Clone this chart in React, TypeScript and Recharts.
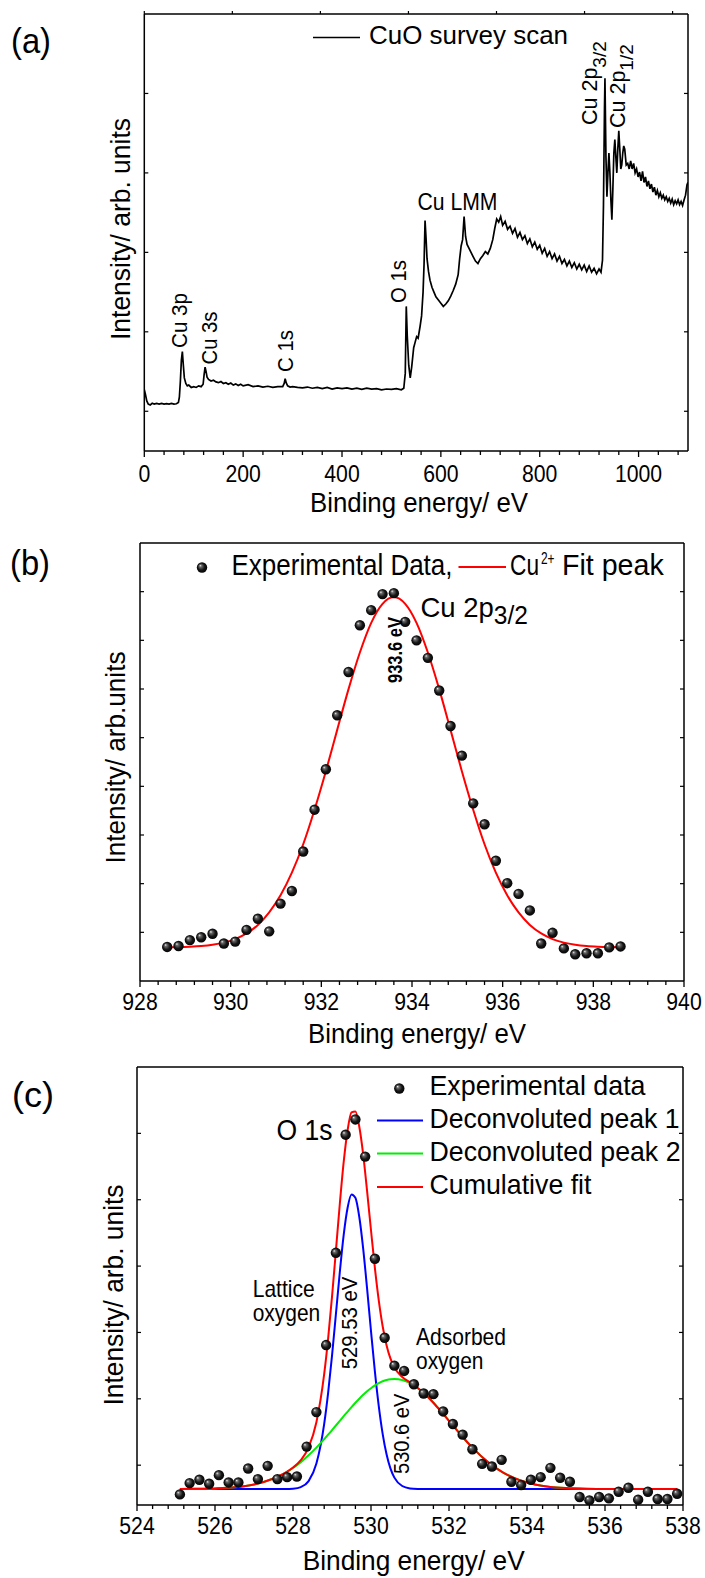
import React from "react";
import { ComposedChart, Line, Scatter, XAxis, YAxis } from "recharts";

const FONT = "'Liberation Sans', Arial, Helvetica, sans-serif";
const W = 705;
const H = 1578;

// ---------- (a) CuO survey scan ----------
const SURVEY_EV = [
  0, 2, 5, 8, 12, 16, 20, 25, 30, 35,
  40, 45, 50, 55, 60, 65, 69, 71, 73, 75,
  77, 79, 81, 84, 87, 90, 95, 100, 105, 110,
  115, 119, 121, 123, 125, 127, 130, 135, 140, 145,
  150, 155, 160, 165, 170, 175, 180, 185, 190, 195,
  200, 210, 220, 230, 240, 250, 260, 270, 280, 283,
  285, 287, 290, 295, 300, 310, 320, 330, 340, 350,
  360, 370, 380, 390, 400, 410, 420, 430, 440, 450,
  460, 470, 480, 490, 500, 510, 520, 525, 528, 530,
  532, 535, 538, 541, 545, 548, 551, 554, 558, 561,
  564, 566, 568, 570, 572, 575, 578, 582, 586, 590,
  595, 600, 605, 610, 615, 620, 625, 630, 635, 638,
  641, 644, 647, 650, 653, 657, 661, 665, 670, 675,
  680, 685, 690, 695, 700, 705, 709, 713, 717, 721,
  725, 730, 735, 740, 745, 750, 755, 760, 765, 770,
  775, 780, 785, 790, 795, 800, 805, 810, 815, 820,
  825, 830, 835, 840, 845, 850, 855, 860, 865, 870,
  875, 880, 885, 890, 895, 900, 905, 910, 915, 920,
  924, 927, 929, 931, 932, 934, 936, 938, 940, 942,
  944, 946, 948, 950, 952, 954, 956, 958, 960, 962,
  964, 966, 968, 970, 972, 975, 978, 981, 984, 987,
  990, 993, 996, 999, 1002, 1005, 1008, 1011, 1014, 1017,
  1020, 1023, 1026, 1029, 1032, 1035, 1038, 1041, 1044, 1047,
  1050, 1053, 1056, 1059, 1062, 1065, 1068, 1071, 1074, 1077,
  1080, 1083, 1086, 1089, 1092, 1095, 1098, 1100,
];
const SURVEY_INT = [
  0.27, 0.22, 0.13, 0.09, 0.08, 0.1, 0.09, 0.1, 0.09, 0.1,
  0.09, 0.095, 0.09, 0.1, 0.09, 0.095, 0.11, 0.18, 0.38, 0.64,
  0.75, 0.58, 0.42, 0.35, 0.32, 0.33, 0.3, 0.31, 0.3, 0.32,
  0.31, 0.34, 0.46, 0.555, 0.5, 0.43, 0.4, 0.38, 0.39, 0.37,
  0.36, 0.375, 0.35, 0.36, 0.34, 0.355, 0.33, 0.345, 0.325, 0.34,
  0.32, 0.335, 0.31, 0.32, 0.305, 0.315, 0.3, 0.31, 0.31, 0.35,
  0.41, 0.36, 0.32, 0.305, 0.31, 0.3, 0.295, 0.305, 0.29, 0.3,
  0.285, 0.3, 0.28, 0.295, 0.285, 0.295, 0.28, 0.29, 0.275, 0.29,
  0.28, 0.285, 0.27, 0.28, 0.275, 0.285, 0.27, 0.29, 0.48, 1.32,
  0.95, 0.58, 0.42, 0.56, 0.8, 0.87, 0.94, 0.92, 1.07, 1.2,
  1.5, 1.85, 2.4, 2.18, 1.92, 1.76, 1.65, 1.56, 1.5, 1.44,
  1.4, 1.36, 1.32, 1.35, 1.39, 1.45, 1.52, 1.6, 1.72, 1.92,
  2.08, 2.16, 2.45, 2.2, 2.1, 2.05, 2.0, 1.95, 1.89, 1.86,
  1.92, 1.96, 2.01, 1.98, 2.05, 2.16, 2.3, 2.42, 2.38, 2.45,
  2.34, 2.39, 2.29, 2.33, 2.24, 2.3, 2.19, 2.25, 2.16, 2.21,
  2.11, 2.17, 2.07, 2.13, 2.04, 2.09, 1.99, 2.05, 1.95, 2.01,
  1.92, 1.98, 1.89, 1.95, 1.86, 1.91, 1.83, 1.89, 1.81, 1.87,
  1.79, 1.85, 1.78, 1.84, 1.76, 1.83, 1.75, 1.8, 1.73, 1.79,
  1.75, 1.9, 2.6, 3.8, 4.19, 3.2, 2.7, 3.0, 3.25, 3.0,
  2.66, 2.41, 2.8, 3.25, 3.42, 3.2, 3.0, 3.3, 3.53, 3.3,
  3.05, 3.1, 3.25, 3.34, 3.3, 3.1, 3.12, 3.05, 3.15, 3.05,
  3.12, 3.0, 3.05, 2.95, 3.01, 2.9, 3.02, 2.88, 2.95, 2.83,
  2.9, 2.8, 2.86, 2.76, 2.82, 2.72, 2.78, 2.7, 2.75, 2.68,
  2.72, 2.66, 2.7, 2.64, 2.68, 2.62, 2.67, 2.6, 2.65, 2.61,
  2.66, 2.6, 2.64, 2.59, 2.66, 2.72, 2.85, 2.88,
];
const A_XTICKS = [0, 40, 80, 120, 160, 200, 240, 280, 320, 360, 400, 440, 480, 520, 560, 600, 640, 680, 720, 760, 800, 840, 880, 920, 960, 1000, 1040, 1080];
const A_XLABELS = [0, 200, 400, 600, 800, 1000];
const A_YTICKS = [0, 1, 2, 3, 4];

// ---------- (b) Cu 2p3/2 ----------
const B_EV = [
  928.6, 928.85, 929.1, 929.35, 929.6, 929.85, 930.1, 930.35, 930.6, 930.85,
  931.1, 931.35, 931.6, 931.85, 932.1, 932.35, 932.6, 932.85, 933.1, 933.35,
  933.6, 933.85, 934.1, 934.35, 934.6, 934.85, 935.1, 935.35, 935.6, 935.85,
  936.1, 936.35, 936.6, 936.85, 937.1, 937.35, 937.6, 937.85, 938.1, 938.35,
  938.6,
];
const B_EXP = [
  -0.3, -0.28, -0.16, -0.1, -0.03, -0.23, -0.19, 0.05, 0.28, 0.02,
  0.59, 0.85, 1.66, 2.52, 3.35, 4.46, 5.35, 6.31, 6.62, 6.95,
  6.97, 6.38, 6.0, 5.64, 4.97, 4.24, 3.63, 2.65, 2.22, 1.47,
  1.01, 0.79, 0.45, -0.23, -0.01, -0.33, -0.45, -0.43, -0.43, -0.31,
  -0.29,
];
const B_FIT = [
  -0.307, -0.303, -0.295, -0.281, -0.255, -0.211, -0.139, -0.023, 0.152, 0.41,
  0.76, 1.225, 1.81, 2.52, 3.31, 4.16, 4.997, 5.75, 6.36, 6.75,
  6.89, 6.75, 6.36, 5.75, 4.997, 4.16, 3.31, 2.52, 1.81, 1.225,
  0.76, 0.41, 0.152, -0.023, -0.139, -0.211, -0.255, -0.281, -0.295, -0.303,
  -0.307,
];
const B_XTICKS = [928, 928.4, 928.8, 929.2, 929.6, 930, 930.4, 930.8, 931.2, 931.6, 932, 932.4, 932.8, 933.2, 933.6, 934, 934.4, 934.8, 935.2, 935.6, 936, 936.4, 936.8, 937.2, 937.6, 938, 938.4, 938.8, 939.2, 939.6, 940];
const B_XLABELS = [928, 930, 932, 934, 936, 938, 940];
const B_YTICKS = [0, 1, 2, 3, 4, 5, 6, 7];

// ---------- (c) O 1s ----------
const C_EV = [
  525.1, 525.35, 525.6, 525.85, 526.1, 526.35, 526.6, 526.85, 527.1, 527.35,
  527.6, 527.85, 528.1, 528.35, 528.6, 528.85, 529.1, 529.35, 529.6, 529.85,
  530.1, 530.35, 530.6, 530.85, 531.1, 531.35, 531.6, 531.85, 532.1, 532.35,
  532.6, 532.85, 533.1, 533.35, 533.6, 533.85, 534.1, 534.35, 534.6, 534.85,
  535.1, 535.35, 535.6, 535.85, 536.1, 536.35, 536.6, 536.85, 537.1, 537.35,
  537.6, 537.85,
];
const C_EXP = [
  -0.44, -0.27, -0.22, -0.28, -0.15, -0.26, -0.26, -0.05, -0.21, -0.01,
  -0.21, -0.18, -0.17, 0.28, 0.8, 1.81, 3.2, 4.98, 5.21, 4.65,
  3.11, 1.92, 1.5, 1.42, 1.22, 1.08, 1.07, 0.81, 0.62, 0.46,
  0.24, 0.02, -0.02, 0.08, -0.25, -0.3, -0.22, -0.18, -0.04, -0.19,
  -0.25, -0.48, -0.53, -0.48, -0.5, -0.4, -0.34, -0.52, -0.4, -0.51,
  -0.51, -0.43,
];
const C_FIT_EV = [
  525.1, 525.5, 526, 526.5, 527, 527.5, 527.8, 528, 528.2, 528.4,
  528.6, 528.8, 528.9, 529, 529.1, 529.2, 529.3, 529.4, 529.5, 529.6,
  529.7, 529.8, 529.9, 530, 530.1, 530.2, 530.3, 530.4, 530.5, 530.6,
  530.8, 531, 531.2, 531.4, 531.6, 531.8, 532, 532.3, 532.6, 533,
  533.4, 533.8, 534.2, 534.6, 535, 535.5, 536, 537, 537.85,
];
const C_PEAK1 = [
  -0.36, -0.36, -0.36, -0.36, -0.36, -0.36, -0.36, -0.354, -0.33, -0.241,
  0.024, 0.623, 1.085, 1.647, 2.275, 2.907, 3.47, 3.88, 4.08, 4.03,
  3.74, 3.26, 2.66, 2.02, 1.41, 0.887, 0.468, 0.161, -0.051, -0.187,
  -0.314, -0.35, -0.358, -0.36, -0.36, -0.36, -0.36, -0.36, -0.36, -0.36,
  -0.36, -0.36, -0.36, -0.36, -0.36, -0.36, -0.36, -0.36, -0.36,
];
const C_PEAK2 = [
  -0.359, -0.357, -0.35, -0.333, -0.29, -0.2, -0.116, -0.042, 0.046, 0.149,
  0.264, 0.392, 0.459, 0.528, 0.598, 0.668, 0.739, 0.807, 0.875, 0.94,
  1.001, 1.06, 1.113, 1.16, 1.202, 1.237, 1.264, 1.284, 1.296, 1.3,
  1.284, 1.237, 1.16, 1.06, 0.94, 0.807, 0.668, 0.459, 0.264, 0.046,
  -0.116, -0.224, -0.29, -0.327, -0.345, -0.355, -0.358, -0.36, -0.36,
];
const C_CUM = [
  -0.359, -0.357, -0.35, -0.333, -0.29, -0.2, -0.116, -0.036, 0.076, 0.268,
  0.648, 1.375, 1.904, 2.535, 3.233, 3.935, 4.569, 5.047, 5.315, 5.33,
  5.1, 4.68, 4.13, 3.54, 2.97, 2.48, 2.09, 1.805, 1.605, 1.473,
  1.33, 1.247, 1.162, 1.06, 0.94, 0.807, 0.668, 0.459, 0.264, 0.046,
  -0.116, -0.224, -0.29, -0.327, -0.345, -0.355, -0.358, -0.36, -0.36,
];
const C_XTICKS = [524, 524.4, 524.8, 525.2, 525.6, 526, 526.4, 526.8, 527.2, 527.6, 528, 528.4, 528.8, 529.2, 529.6, 530, 530.4, 530.8, 531.2, 531.6, 532, 532.4, 532.8, 533.2, 533.6, 534, 534.4, 534.8, 535.2, 535.6, 536, 536.4, 536.8, 537.2, 537.6, 538];
const C_XLABELS = [524, 526, 528, 530, 532, 534, 536, 538];
const C_YTICKS = [0, 1, 2, 3, 4, 5];

const surveyData = SURVEY_EV.map((x, i) => ({ x, y: SURVEY_INT[i] }));
const bExp = B_EV.map((x, i) => ({ x, y: B_EXP[i] }));
const bFit = B_EV.map((x, i) => ({ x, fit: B_FIT[i] }));
const cExp = C_EV.map((x, i) => ({ x, y: C_EXP[i] }));
const cFit = C_FIT_EV.map((x, i) => ({ x, p1: C_PEAK1[i], p2: C_PEAK2[i], cum: C_CUM[i] }));

const AX = { stroke: "#000", strokeWidth: 1.5 };

const xTickBottom = (labels: number[], dy: number) => (p: any) => {
  const { x, y, payload } = p;
  const v = payload.value;
  const major = labels.indexOf(v) >= 0;
  const s = String(v);
  return (
    <g>
      <line x1={x} x2={x} y1={y} y2={y + (major ? 6 : 4)} stroke="#000" strokeWidth={1.3} />
      {major && (
        <text x={x} y={y + dy} textAnchor="middle" fontFamily={FONT} fontSize={23.5}
          textLength={s.length * 11.8} lengthAdjust="spacingAndGlyphs" fill="#000">{s}</text>
      )}
    </g>
  );
};
const xTickTop = (p: any) => <line x1={p.x} x2={p.x} y1={p.y} y2={p.y - 3} stroke="#000" strokeWidth={1.2} />;
const yTickLeft = (p: any) => <line x1={p.x} x2={p.x + 4} y1={p.y} y2={p.y} stroke="#000" strokeWidth={1.2} />;
const yTickRight = (p: any) => <line x1={p.x} x2={p.x - 4} y1={p.y} y2={p.y} stroke="#000" strokeWidth={1.2} />;

const ball = (p: any) => <circle cx={p.cx} cy={p.cy} r={5.2} fill="url(#ball)" />;

type Box = { l: number; r: number; t: number; b: number };

function Panel({ box, xd, yd, xt, xl, yt, dy, data, children }: any) {
  const b = box as Box;
  const margin = { top: b.t - 1, left: b.l - 1, right: W - b.r - 1, bottom: H - b.b - 1 };
  return (
    <div style={{ position: "absolute", left: 0, top: 0 }}>
      <ComposedChart width={W} height={H} data={data} margin={margin}>
        <XAxis dataKey="x" type="number" domain={xd} ticks={xt} interval={0} height={1}
          tickSize={0} tickMargin={0} tickLine={false} axisLine={AX} tick={xTickBottom(xl, dy)} allowDataOverflow />
        <XAxis xAxisId="t" orientation="top" type="number" domain={xd} ticks={xt} interval={0} height={1}
          tickSize={0} tickMargin={0} tickLine={false} axisLine={AX} tick={xTickTop} allowDataOverflow />
        <YAxis dataKey="y" type="number" domain={yd} ticks={yt} interval={0} width={1}
          tickSize={0} tickMargin={0} tickLine={false} axisLine={AX} tick={yTickLeft} allowDataOverflow />
        <YAxis yAxisId="r" orientation="right" type="number" domain={yd} ticks={yt} interval={0} width={1}
          tickSize={0} tickMargin={0} tickLine={false} axisLine={AX} tick={yTickRight} allowDataOverflow />
        {children}
      </ComposedChart>
    </div>
  );
}

function T({ x, y, size, len, anchor = "start", weight = "normal", children }: any) {
  return (
    <text x={x} y={y} fontSize={size} fontFamily={FONT} fontWeight={weight} textAnchor={anchor}
      textLength={len} lengthAdjust="spacingAndGlyphs" fill="#000">{children}</text>
  );
}

// condensed text by scaling the group horizontally (no textLength)
function ST({ x, y, size, sx, children }: any) {
  return (
    <g transform={`translate(${x} ${y}) scale(${sx} 1)`}>
      <text x={0} y={0} fontSize={size} fontFamily={FONT} fill="#000">{children}</text>
    </g>
  );
}

function VT({ x, y, size, len, anchor = "middle", weight = "normal", children }: any) {
  return (
    <text x={x} y={y} transform={`rotate(-90 ${x} ${y})`} fontSize={size} fontFamily={FONT} fontWeight={weight}
      textAnchor={anchor} textLength={len} lengthAdjust="spacingAndGlyphs" fill="#000">{children}</text>
  );
}

export default function App() {
  return (
    <div style={{ position: "absolute", left: 0, top: 0, width: W, height: H, background: "#fff", overflow: "hidden" }}>
      <svg width={0} height={0} style={{ position: "absolute" }}>
        <defs>
          <radialGradient id="ball" cx="0.5" cy="0.5" r="0.55" fx="0.32" fy="0.3">
            <stop offset="0" stopColor="#f2f2f2" />
            <stop offset="0.22" stopColor="#6a6a6a" />
            <stop offset="0.6" stopColor="#161616" />
            <stop offset="1" stopColor="#000" />
          </radialGradient>
        </defs>
      </svg>

      <Panel box={{ l: 144.3, r: 688, t: 14, b: 451 }} xd={[0, 1100]} yd={[-0.5, 5]}
        xt={A_XTICKS} xl={A_XLABELS} yt={A_YTICKS} dy={31} data={surveyData}>
        <Line dataKey="y" type="linear" stroke="#000" strokeWidth={1.7} dot={false} activeDot={false} isAnimationActive={false} />
      </Panel>

      <Panel box={{ l: 140, r: 684, t: 543, b: 981 }} xd={[928, 940]} yd={[-1, 8]}
        xt={B_XTICKS} xl={B_XLABELS} yt={B_YTICKS} dy={29} data={bFit}>
        <Line dataKey="fit" type="monotone" stroke="#ff0000" strokeWidth={2} dot={false} activeDot={false} isAnimationActive={false} />
        <Scatter data={bExp} dataKey="y" shape={ball} isAnimationActive={false} />
      </Panel>

      <Panel box={{ l: 137, r: 683, t: 1067, b: 1505 }} xd={[524, 538]} yd={[-0.6, 6]}
        xt={C_XTICKS} xl={C_XLABELS} yt={C_YTICKS} dy={28.5} data={cFit}>
        <Line dataKey="p1" type="monotone" stroke="#0000ff" strokeWidth={2} dot={false} activeDot={false} isAnimationActive={false} />
        <Line dataKey="p2" type="monotone" stroke="#00ee00" strokeWidth={2} dot={false} activeDot={false} isAnimationActive={false} />
        <Line dataKey="cum" type="monotone" stroke="#ff0000" strokeWidth={2} dot={false} activeDot={false} isAnimationActive={false} />
        <Scatter data={cExp} dataKey="y" shape={ball} isAnimationActive={false} />
      </Panel>

      <svg width={W} height={H} style={{ position: "absolute", left: 0, top: 0, pointerEvents: "none" }}>
        {/* (a) */}
        <T x={11} y={53} size={35} len={40}>(a)</T>
        <line x1={313} x2={360} y1={37.5} y2={37.5} stroke="#000" strokeWidth={1.6} />
        <T x={369} y={44} size={26} len={199}>CuO survey scan</T>
        <VT x={130} y={229} size={27} len={222}>Intensity/ arb. units</VT>
        <T x={419} y={512} size={28.5} len={218} anchor="middle">Binding energy/ eV</T>
        <VT x={187} y={320.5} size={22} len={55}>Cu 3p</VT>
        <VT x={216.5} y={338} size={22} len={53}>Cu 3s</VT>
        <VT x={293} y={351} size={22} len={42}>C 1s</VT>
        <VT x={406} y={281.5} size={22} len={43}>O 1s</VT>
        <T x={457.5} y={209.5} size={23} len={80} anchor="middle">Cu LMM</T>
        <text x={596.5} y={125} transform="rotate(-90 596.5 125)" fontSize={21.5} fontFamily={FONT} fill="#000">
          Cu 2p<tspan fontSize={19} dy={9}>3/2</tspan>
        </text>
        <text x={625} y={128} transform="rotate(-90 625 128)" fontSize={21.5} fontFamily={FONT} fill="#000">
          Cu 2p<tspan fontSize={19} dy={8}>1/2</tspan>
        </text>

        {/* (b) */}
        <T x={10} y={575} size={35} len={40}>(b)</T>
        <circle cx={202} cy={567.5} r={5.2} fill="url(#ball)" />
        <T x={231.5} y={575} size={29.5} len={221}>Experimental Data,</T>
        <line x1={458.5} x2={506} y1={567} y2={567} stroke="#ff0000" strokeWidth={2} />
        <ST x={510} y={575} size={29.5} sx={0.77}>Cu</ST>
        <ST x={541} y={564} size={17} sx={0.7}>2+</ST>
        <ST x={562} y={575} size={29.5} sx={0.97}>Fit peak</ST>
        <text x={420.5} y={617} fontSize={28} fontFamily={FONT} fill="#000" textLength={107.5} lengthAdjust="spacingAndGlyphs">
          Cu 2p<tspan fontSize={25} dy={7}>3/2</tspan>
        </text>
        <VT x={402} y={650} size={21} len={66} weight="bold">933.6 eV</VT>
        <VT x={125} y={757.5} size={27} len={212}>Intensity/ arb.units</VT>
        <T x={417} y={1043} size={28.5} len={218} anchor="middle">Binding energy/ eV</T>

        {/* (c) */}
        <T x={12} y={1107} size={35} len={42}>(c)</T>
        <circle cx={399.3} cy={1088.5} r={5.2} fill="url(#ball)" />
        <T x={429.5} y={1095} size={28.5} len={216}>Experimental data</T>
        <line x1={377} x2={423} y1={1120.6} y2={1120.6} stroke="#0000ff" strokeWidth={2} />
        <T x={429.5} y={1128} size={28} len={250}>Deconvoluted peak 1</T>
        <line x1={377} x2={423} y1={1153.5} y2={1153.5} stroke="#00ee00" strokeWidth={2} />
        <T x={429.5} y={1161} size={28} len={251}>Deconvoluted peak 2</T>
        <line x1={377} x2={423} y1={1187} y2={1187} stroke="#ff0000" strokeWidth={2} />
        <T x={429.5} y={1194} size={28.5} len={162}>Cumulative fit</T>
        <T x={276.5} y={1139.5} size={30} len={56}>O 1s</T>
        <T x={252.7} y={1296.7} size={24} len={62}>Lattice</T>
        <T x={252.7} y={1321.4} size={24} len={67.5}>oxygen</T>
        <T x={416} y={1345.4} size={24} len={90}>Adsorbed</T>
        <T x={416} y={1369.4} size={24} len={67.5}>oxygen</T>
        <VT x={357} y={1323} size={22} len={92.6}>529.53 eV</VT>
        <VT x={409} y={1433.8} size={22} len={80.5}>530.6 eV</VT>
        <VT x={122.6} y={1295} size={27} len={221}>Intensity/ arb. units</VT>
        <T x={413.7} y={1569.5} size={28.5} len={222} anchor="middle">Binding energy/ eV</T>
      </svg>
    </div>
  );
}
